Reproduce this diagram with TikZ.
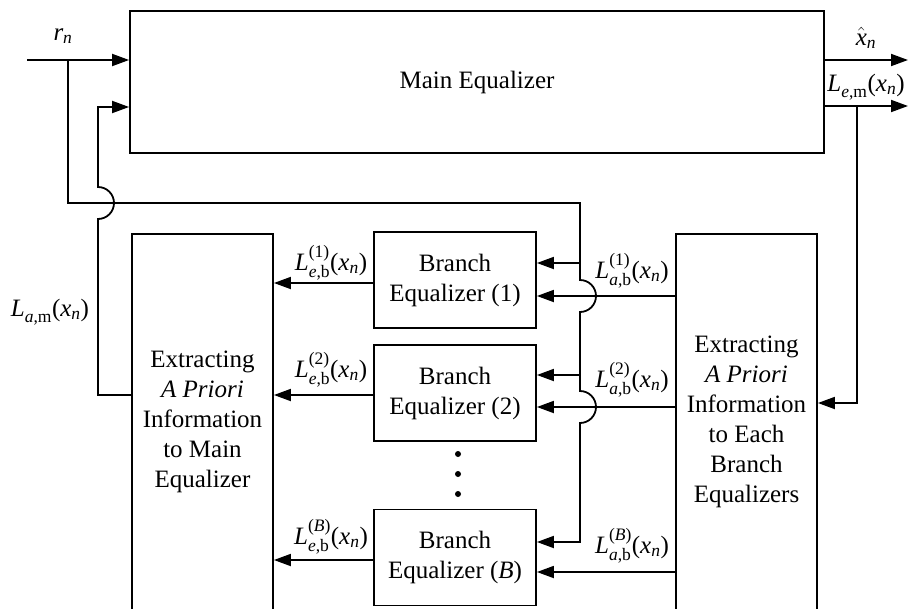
\documentclass[tikz,border=0pt]{standalone}
\usepackage{amsmath}
\usepackage{fontspec}
\setmainfont{Liberation Serif}
\usetikzlibrary{arrows.meta}
% italic and upright letters taken from the text font inside formulas
\newcommand{\mv}[1]{\text{\itshape #1}}
\newcommand{\mr}[1]{\text{\upshape #1}}
\newcommand{\llr}[3]{$\mv{L}^{#1}_{\mv{#2}\mr{,}#3}\mr{(}\mv{x}_{\mv{n}}\mr{)}$}
\begin{document}
\begin{tikzpicture}[x=1pt,y=-1pt,
  wire/.style={line width=1.8pt},
  arr/.style={wire,-{Triangle[length=17pt,width=12pt]}},
  blk/.style={draw,line width=1.8pt,inner sep=0pt,align=center,
    font=\fontsize{25}{30}\selectfont},
  lbl/.style={inner sep=0pt,font=\fontsize{25}{30}\selectfont}]
\useasboundingbox (0,0) rectangle (909,608);
\clip (0,0) rectangle (909,608);
\fill[white] (0,0) rectangle (909,608);

% blocks
\node[blk,minimum width=694pt,minimum height=142pt] (main) at (477,82) {Main Equalizer};
\node[blk,minimum width=141pt,minimum height=376pt] (lbox) at (202.5,422)
  {Extracting\\\textit{A Priori}\\Information\\to Main\\Equalizer};
\node[blk,minimum width=141pt,minimum height=376pt] (rbox) at (746.5,422)
  {Extracting\\\textit{A Priori}\\Information\\to Each\\Branch\\Equalizers};
\node[blk,minimum width=162pt,minimum height=96pt] (b1) at (455,280) {Branch\\Equalizer (1)};
\node[blk,minimum width=162pt,minimum height=96pt] (b2) at (455,393) {Branch\\Equalizer (2)};
\node[blk,minimum width=162pt,minimum height=96pt] (bB) at (455,557.5) {Branch\\Equalizer (\textit{B})};

% vertical dots between branch equalizers
\fill (458,454) circle (3pt) (458,474) circle (3pt) (458,494) circle (3pt);

% wire points
\coordinate (rin) at (27,60);
\coordinate (rtap) at (68,60);
\coordinate (rdown) at (68,203);
\coordinate (rbus) at (580,203);
\coordinate (xout) at (908,60);
\coordinate (leout) at (908,106);
\coordinate (ledown) at (857,106);
\coordinate (lecorner) at (857,403);
\coordinate (fbcorner) at (98,395);
\coordinate (fbtop) at (98,107);

% received signal into main equalizer and down to the branch bus
\draw[arr] (rin) -- (rin -| main.west);
\draw[arr] (rtap) -- (rdown) -- (rbus) -- (580,280)
  arc[start angle=90,end angle=-90,radius=16pt] -- (580,391)
  arc[start angle=90,end angle=-90,radius=16pt] -- (580,542) -- (bB.east |- 0,542);
\draw[arr] (580,263) -- (b1.east |- 0,263);
\draw[arr] (580,375) -- (b2.east |- 0,375);

% outputs of main equalizer
\draw[arr] (main.east |- xout) -- (xout);
\draw[arr] (main.east |- leout) -- (leout);
\draw[arr] (ledown) -- (lecorner) -- (rbox.east |- lecorner);

% a priori information to branch equalizers
\draw[arr] (rbox.west |- 0,296) -- (b1.east |- 0,296);
\draw[arr] (rbox.west |- 0,407) -- (b2.east |- 0,407);
\draw[arr] (rbox.west |- 0,572) -- (bB.east |- 0,572);

% extrinsic outputs of branch equalizers
\draw[arr] (b1.west |- 0,283) -- (lbox.east |- 0,283);
\draw[arr] (b2.west |- 0,395) -- (lbox.east |- 0,395);
\draw[arr] (bB.west |- 0,560) -- (lbox.east |- 0,560);

% feedback of a priori information to main equalizer
\draw[arr] (lbox.west |- fbcorner) -- (fbcorner) -- (98,219)
  arc[start angle=-90,end angle=90,radius=16pt] -- (fbtop) -- (main.west |- fbtop);

% labels
\node[lbl] (lr) at (63,36) {$\mv{r}_{\mv{n}}$};
\node[lbl] (lx) at (866,38) {$\hat{\mv{x}}_{\mv{n}}$};
\node[lbl] (lem) at (866,87) {\llr{}{e}{\mr{m}}};
\node[lbl] (lam) at (50,312) {\llr{}{a}{\mr{m}}};
\node[lbl] (le1) at (331,263) {\llr{\mr{(1)}}{e}{\mr{b}}};
\node[lbl] (le2) at (331,370) {\llr{\mr{(2)}}{e}{\mr{b}}};
\node[lbl] (leB) at (331,537) {\llr{\mr{(}\mv{B}\mr{)}}{e}{\mr{b}}};
\node[lbl] (la1) at (632,271) {\llr{\mr{(1)}}{a}{\mr{b}}};
\node[lbl] (la2) at (632,380) {\llr{\mr{(2)}}{a}{\mr{b}}};
\node[lbl] (laB) at (632,546) {\llr{\mr{(}\mv{B}\mr{)}}{a}{\mr{b}}};
\end{tikzpicture}
\end{document}
